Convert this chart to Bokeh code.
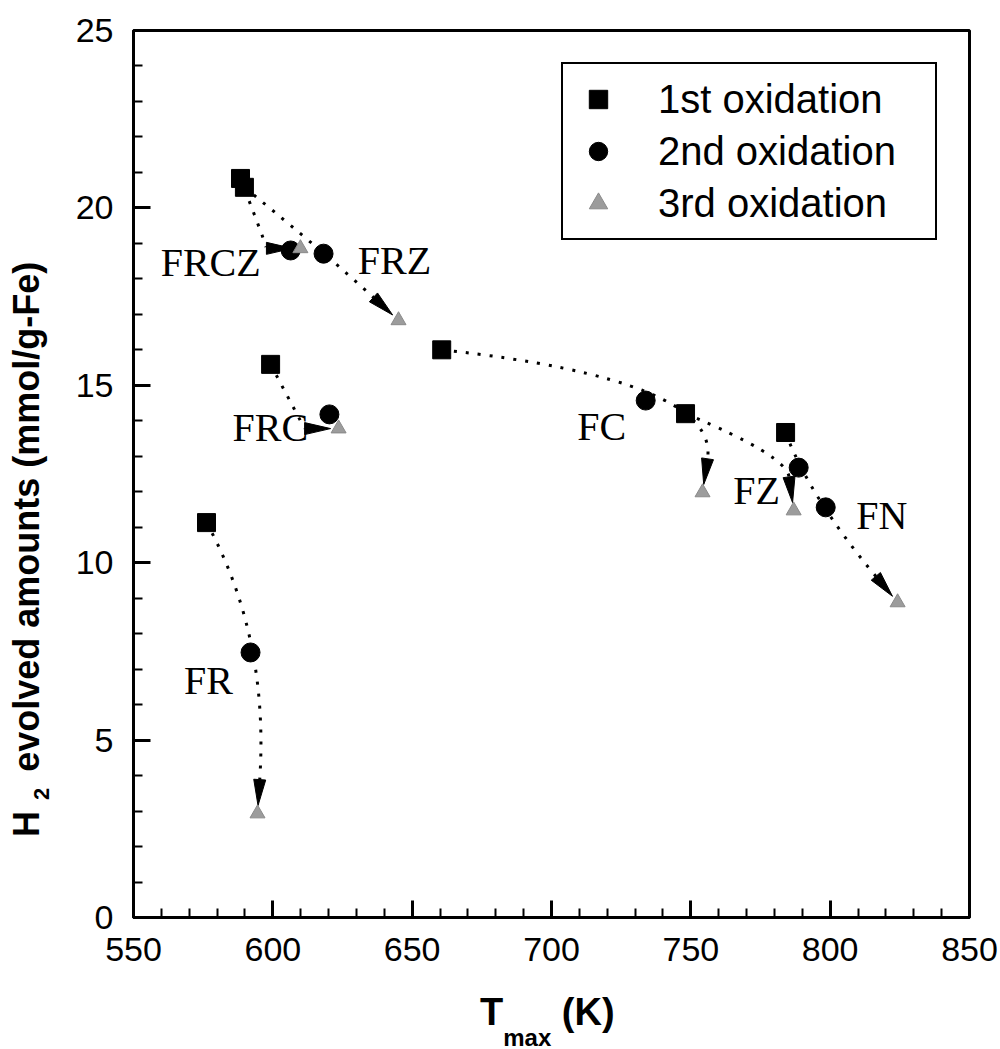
import numpy as np
from bokeh.plotting import figure
from bokeh.models import Range1d, Legend, LegendItem, FixedTicker, Div
from bokeh.layouts import column, row
from bokeh.embed import file_html
from bokeh.resources import INLINE
from bokeh.core.properties import value

# ---------------- data ----------------
samples = ["FRCZ", "FRZ", "FRC", "FR", "FC", "FZ", "FN"]
t_ox1 = [588.4, 589.8, 599.2, 576.2, 660.6, 748.1, 784.0]
h_ox1 = [20.83, 20.58, 15.59, 11.13, 16.00, 14.20, 13.67]
t_ox2 = [606.4, 618.2, 620.3, 592.0, 733.8, 788.7, 798.4]
h_ox2 = [18.80, 18.71, 14.18, 7.47, 14.57, 12.68, 11.56]
t_ox3 = [609.9, 645.1, 623.6, 594.5, 754.2, 786.9, 824.2]
h_ox3 = [18.86, 16.83, 13.78, 2.93, 11.98, 11.47, 8.88]
series_names = ["1st oxidation", "2nd oxidation", "3rd oxidation"]
x_ticks = [550, 600, 650, 700, 750, 800, 850]
y_ticks = [0, 5, 10, 15, 20, 25]

# ---------------- styles / layout ----------------
W, H = 1000, 1049
YDIV_W = 60
FIG_H = 985
FL, FRT, FT, FB = 133, 969, 30, 917     # frame edges on the page
XR = (550, 850)
YR = (0, 25)
SX = (FRT - FL) / (XR[1] - XR[0])
SY = (FB - FT) / (YR[1] - YR[0])

def to_px(x, y):
    return np.array([FL + (x - XR[0]) * SX, FB - (y - YR[0]) * SY])

def to_data(px, py):
    return (XR[0] + (px - FL) / SX, YR[0] + (FB - py) / SY)

# arrow path style: "through" = curve passes 2nd point; else elbow factors
path_mode = ["elbow", "through", "elbow", "through", "through", "elbow", "through"]
elbow_ax = [0.45, 0, 0.5, 0, 0, 0.93, 0]
elbow_ay = [1.0, 0, 1.0, 0, 0, 0.43, 0]
label_off = [(-80, 12), (71, 7), (-59, 13), (-42, 28), (-44, 26), (-42, 23), (56, 8)]

p = figure(width=W - YDIV_W, height=FIG_H, output_backend="svg", toolbar_location=None,
           x_range=Range1d(*XR), y_range=Range1d(*YR),
           min_border_left=FL - YDIV_W, min_border_right=W - FRT,
           min_border_top=FT, min_border_bottom=FIG_H - FB)
p.background_fill_color = "white"
p.border_fill_color = "white"
p.grid.visible = False
p.outline_line_color = "black"
p.outline_line_width = 3
p.outline_line_alpha = 1.0

p.xaxis.ticker = FixedTicker(ticks=x_ticks,
                             minor_ticks=[v for v in range(550, 851, 10) if v % 50])
p.yaxis.ticker = FixedTicker(ticks=y_ticks,
                             minor_ticks=[v for v in range(0, 26) if v % 5])
for ax in (p.xaxis[0], p.yaxis[0]):
    ax.axis_line_width = 3
    ax.axis_line_color = "black"
    ax.major_tick_in = 17
    ax.major_tick_out = 0
    ax.minor_tick_in = 9
    ax.minor_tick_out = 0
    ax.major_tick_line_width = 3
    ax.minor_tick_line_width = 2
    ax.major_tick_line_color = "black"
    ax.minor_tick_line_color = "black"
    ax.major_label_text_font = "Liberation Sans"
    ax.major_label_text_font_size = "34px"
    ax.major_label_text_color = "black"
    ax.major_label_standoff = 20

# ---------------- arrows (dotted curves + heads) ----------------
qx0, qy0, qx1, qy1, qcx, qcy = [], [], [], [], [], []
head_xs, head_ys = [], []
GAP, HL, HW = 8.0, 26.0, 6.0
for i in range(len(samples)):
    P1 = to_px(t_ox1[i], h_ox1[i])
    P2 = to_px(t_ox2[i], h_ox2[i])
    P3 = to_px(t_ox3[i], h_ox3[i])
    if path_mode[i] == "through":
        C = 2 * P2 - (P1 + P3) / 2
    else:
        C = P1 + np.array([elbow_ax[i] * (P3[0] - P1[0]), elbow_ay[i] * (P3[1] - P1[1])])
    u = (P3 - C) / np.linalg.norm(P3 - C)
    n = np.array([-u[1], u[0]])
    tip = P3 - GAP * u
    base = tip - HL * u
    a = to_data(*P1); b = to_data(*base); c = to_data(*C)
    qx0.append(a[0]); qy0.append(a[1]); qx1.append(b[0]); qy1.append(b[1])
    qcx.append(c[0]); qcy.append(c[1])
    pts = [tip, base + HW * n, base - HW * n]
    dd = [to_data(*q) for q in pts]
    head_xs.append([q[0] for q in dd]); head_ys.append([q[1] for q in dd])

p.quadratic(x0=qx0, y0=qy0, x1=qx1, y1=qy1, cx=qcx, cy=qcy,
            line_color="black", line_width=3, line_dash="3 9")

r1 = p.scatter(t_ox1, h_ox1, marker="square", size=18, fill_color="black", line_color="black")
r2 = p.scatter(t_ox2, h_ox2, marker="circle", size=19, fill_color="black", line_color="black")
p.patches(head_xs, head_ys, fill_color="black", line_color="black", line_width=1)
r3 = p.scatter(t_ox3, h_ox3, marker="triangle", size=15, fill_color="#9c9c9c",
               line_color="#8a8a8a", line_width=1)

# ---------------- sample labels ----------------
lx, ly = [], []
for i in range(len(samples)):
    c2 = to_px(t_ox2[i], h_ox2[i])
    d = to_data(c2[0] + label_off[i][0], c2[1] + label_off[i][1])
    lx.append(d[0]); ly.append(d[1])
p.text(x=lx, y=ly, text=samples, text_font=value("Liberation Serif"),
       text_font_size="40px", text_align="center", text_baseline="middle",
       text_color="black")

# ---------------- legend ----------------
legend = Legend(items=[LegendItem(label=series_names[0], renderers=[r1]),
                       LegendItem(label=series_names[1], renderers=[r2]),
                       LegendItem(label=series_names[2], renderers=[r3])],
                location="top_right")
legend.margin = 32
legend.padding = 12
legend.spacing = 6
legend.glyph_width = 46
legend.glyph_height = 46
legend.label_height = 46
legend.label_width = 265
legend.label_standoff = 37
legend.label_text_font = "Liberation Sans"
legend.label_text_font_size = "40px"
legend.label_text_color = "black"
legend.border_line_color = "black"
legend.border_line_alpha = 1.0
legend.border_line_width = 2
legend.background_fill_color = "white"
legend.background_fill_alpha = 1.0
p.add_layout(legend)

# ---------------- axis titles (with subscripts) as HTML ----------------
font_css = "font-family:'Liberation Sans',Arial,sans-serif;font-weight:bold;color:black;white-space:nowrap;"
y_html = (
    f'<div style="position:relative;width:{YDIV_W}px;height:{FIG_H}px;overflow:visible;">'
    f'<div style="position:absolute;left:9px;top:837px;width:620px;transform:rotate(-90deg);'
    f'transform-origin:0 0;{font_css}font-size:36px;line-height:36px;">'
    'H<span style="font-size:22px;vertical-align:-10px;margin-left:11px;margin-right:6px;">2</span>'
    ' evolved amounts (mmol/g-Fe)</div></div>'
)
x_html = (
    f'<div style="position:relative;width:{W}px;height:{H - FIG_H}px;">'
    f'<div style="position:absolute;left:480px;top:8px;{font_css}'
    'font-size:38px;line-height:38px;">'
    'T<span style="font-size:24px;vertical-align:-21px;">max</span> (K)</div></div>'
)
ydiv = Div(text=y_html, width=YDIV_W, height=FIG_H, margin=0)
xdiv = Div(text=x_html, width=W, height=H - FIG_H, margin=0)

layout = column(row(ydiv, p, spacing=0), xdiv, spacing=0)
open("out.html", "w").write(file_html(layout, INLINE))
